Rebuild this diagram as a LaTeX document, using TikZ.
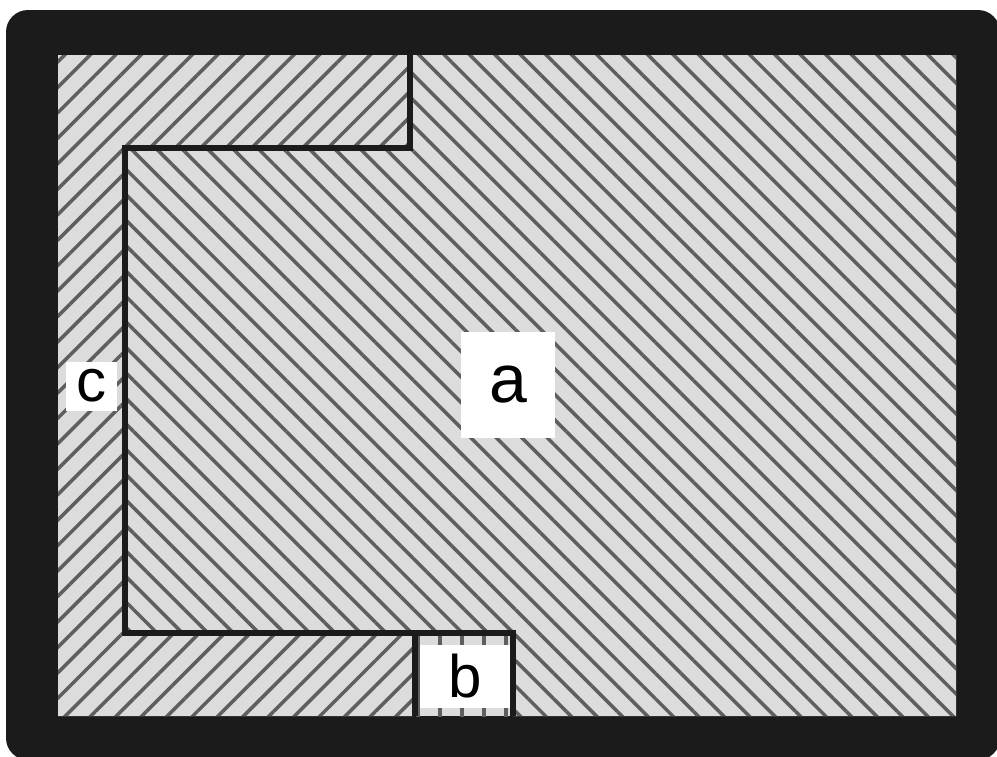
\documentclass[tikz,border=0pt]{standalone}
\usepackage{fontspec}
\setmainfont{Liberation Sans}
\usepackage{xcolor}
\usetikzlibrary{patterns.meta}
\definecolor{wallblack}{HTML}{1B1B1B}
\definecolor{floorgray}{HTML}{DCDCDC}
\definecolor{hatchgray}{HTML}{5E5E5E}

\begin{document}
\begin{tikzpicture}[x=1pt, y=-1pt,
  zone/.style={preaction={fill=floorgray}, pattern color=hatchgray},
  hatchne/.style={zone, pattern={Lines[angle=45, distance=18pt, line width=3.5pt]}},
  hatchnw/.style={zone, pattern={Lines[angle=-45, distance=18pt, line width=3.5pt]}},
  hatchv/.style={zone, pattern={Lines[angle=90, distance=22pt, line width=3.5pt]}},
  border/.style={draw=wallblack, line width=6.5pt},
  tag/.style={fill=white, inner sep=0pt, text=black}]
\useasboundingbox (0,0) rectangle (997,756);
\fill[wallblack, rounded corners=22pt] (6,10) rectangle (1000,760);
\path[hatchne] (58,55) -- (410,55) -- (410,148) -- (125,148) -- (125,633) -- (413,633) -- (413,716) -- (58,716) -- cycle;
\path[hatchnw] (410,55) -- (956,55) -- (956,716) -- (513,716) -- (513,633) -- (125,633) -- (125,148) -- (410,148) -- cycle;
\path[hatchv] (413,633) rectangle (513,716);
\draw[border, line join=miter] (410,55) -- (410,148) -- (125,148) -- (125,633) -- (513,633) -- (513,716);
\draw[border] (415,633) -- (415,716);
\node[tag, minimum width=94pt, minimum height=106pt, font=\fontsize{68}{70}\selectfont] (rooma) at (508,385) {a};
\node[tag, minimum width=90pt, minimum height=63pt, font=\fontsize{60}{64}\selectfont] (roomb) at (465,676) {b};
\node[tag, minimum width=51pt, minimum height=49pt, font=\fontsize{60}{62}\selectfont] (roomc) at (91.5,386) {c};
\end{tikzpicture}
\end{document}
